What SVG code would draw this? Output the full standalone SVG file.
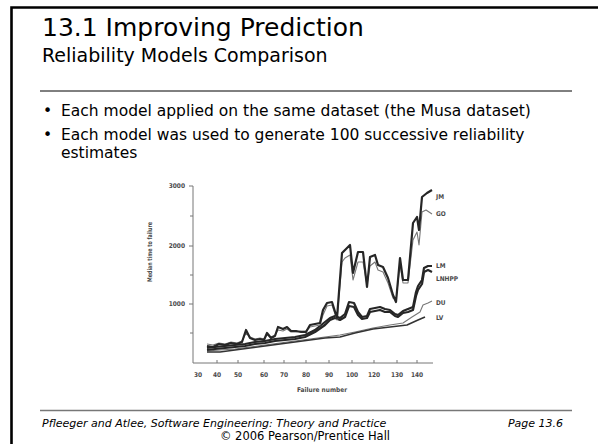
<svg xmlns="http://www.w3.org/2000/svg" width="598" height="444" viewBox="0 0 598 444">
<style>
.t{font-family:"DejaVu Sans",sans-serif;fill:#000}
.title{font-size:25px}
.sub{font-size:19px}
.body{font-size:15.5px}
.foot{font-size:11px;font-style:italic}
.copy{font-size:11.5px}
.ax{font-family:"DejaVu Sans Condensed","DejaVu Sans",sans-serif;font-size:6.5px;font-weight:bold;fill:#4a4a4a}
.axis{fill:none;stroke:#777;stroke-width:1}
.thick{fill:none;stroke:#262626;stroke-width:2.2;stroke-linejoin:round}
.thin{fill:none;stroke:#777;stroke-width:1.1;stroke-linejoin:round}
.med{fill:none;stroke:#333;stroke-width:1.6;stroke-linejoin:round}
</style>
<rect width="598" height="444" fill="#fff"/>
<path d="M11.5 444V7.5H598" fill="none" stroke="#000" stroke-width="2.6"/>
<g id="header">
<text class="t title" x="42" y="36">13.1 Improving Prediction</text>
<text class="t sub" x="42" y="62">Reliability Models Comparison</text>
<line x1="40" y1="91" x2="572" y2="91" stroke="#000" stroke-width="1"/>
</g>
<g id="bullets">
<text class="t body" x="43" y="116">•</text>
<text class="t body" x="61" y="116">Each model applied on the same dataset (the Musa dataset)</text>
<text class="t body" x="43" y="140">•</text>
<text class="t body" x="61" y="140">Each model was used to generate 100 successive reliability</text>
<text class="t body" x="61" y="158">estimates</text>
</g>
<g id="chart">
<path class="axis" d="M193 186V363H433M189 186H193M190 216H193M189 246H193M190 275H193M189 304H193M190 333H193"/>
<path class="axis" d="M217 363V360M238 363V360M264 363V360M284 363V360M306 363V360M329 363V360M352 363V360M374 363V360M397 363V360M417 363V360"/>
<g class="ax" text-anchor="end">
<text x="185" y="188">3000</text>
<text x="185" y="248">2000</text>
<text x="185" y="306">1000</text>
</g>
<g class="ax" text-anchor="middle">
<text x="198" y="377">30</text>
<text x="217" y="377">40</text>
<text x="238" y="377">50</text>
<text x="264" y="377">60</text>
<text x="284" y="377">70</text>
<text x="306" y="377">80</text>
<text x="329" y="377">90</text>
<text x="352" y="377">100</text>
<text x="374" y="377">120</text>
<text x="397" y="377">130</text>
<text x="417" y="377">140</text>
<text x="322" y="392">Failure number</text>
<text transform="translate(152 252) rotate(-90)" textLength="60" lengthAdjust="spacingAndGlyphs">Median time to failure</text>
</g>
<g class="ax">
<text x="436" y="199">JM</text>
<text x="436" y="216">GO</text>
<text x="436" y="268">LM</text>
<text x="436" y="281">LNHPP</text>
<text x="436" y="305">DU</text>
<text x="436" y="320">LV</text>
</g>
<polyline class="thin" points="207,351 220,350 235,349 250,347 265,345 280,343 295,341 310,339 325,337 340,335 355,332 373,328 390,325 403,323 412,317 420,312 423,305 428,303 432,301"/>
<polyline class="med" points="207,352 220,352 235,350 250,348 265,346 280,344 295,342 310,340 325,338 340,337 355,333 373,329 390,327 407,325 418,320 425,317"/>
<polyline class="thick" points="207,350 215,349 225,348 235,347 245,346 255,344 265,343 275,341 285,340 295,339 305,337 315,332 325,325 330,320 335,318 340,320 345,317 349,306 354,307 358,315 362,319 367,318 370,312 375,311 380,310 385,312 390,312 395,316 398,317 403,313 408,312 413,310 416,296 418,290 422,284 424,272 428,270 432,272"/>
<polyline class="thick" points="207,348 215,347 225,346 235,345 245,344 255,342 265,341 275,339 285,338 295,337 305,335 315,330 325,322 330,318 335,316 340,318 345,314 349,302 354,303 358,312 362,317 367,316 370,309 375,308 380,307 385,309 390,310 395,314 398,315 403,311 408,309 413,307 416,292 418,286 422,280 424,268 428,266 432,266"/>
<polyline class="thin" points="207,344 213,345 219,343 225,344 231,342 237,343 242,341 246,333 250,337 255,339 260,338 264,339 267,335 271,337 275,335 278,330 283,331 287,329 291,332 296,332 301,331 306,331 310,327 315,326 320,325 323,315 327,306 332,305 337,320 342,262 345,258 350,255 353,280 358,262 363,262 367,285 370,266 375,262 378,270 383,272 388,283 393,298 396,300 400,265 403,283 408,283 413,240 417,232 419,245 422,212 426,210 432,214"/>
<polyline class="thick" points="207,346 213,347 219,344 225,345 231,343 237,344 242,342 246,330 250,338 255,340 260,339 264,340 267,333 271,338 275,336 278,327 283,329 287,327 291,331 296,331 301,332 306,332 310,325 315,324 320,323 323,310 327,303 332,302 337,318 342,253 345,250 350,245 353,273 358,252 363,252 367,287 370,257 375,255 378,265 383,267 388,278 393,295 396,302 400,258 403,280 408,280 413,223 417,217 419,230 422,197 427,193 432,190"/>
</g>
<g id="footer">
<line x1="40" y1="410.5" x2="572" y2="410.5" stroke="#777" stroke-width="1.5"/>
<text class="t foot" x="42" y="427">Pfleeger and Atlee, Software Engineering: Theory and Practice</text>
<text class="t foot" x="563" y="427" text-anchor="end">Page 13.6</text>
<text class="t copy" x="305" y="440" text-anchor="middle">© 2006 Pearson/Prentice Hall</text>
</g>
</svg>
